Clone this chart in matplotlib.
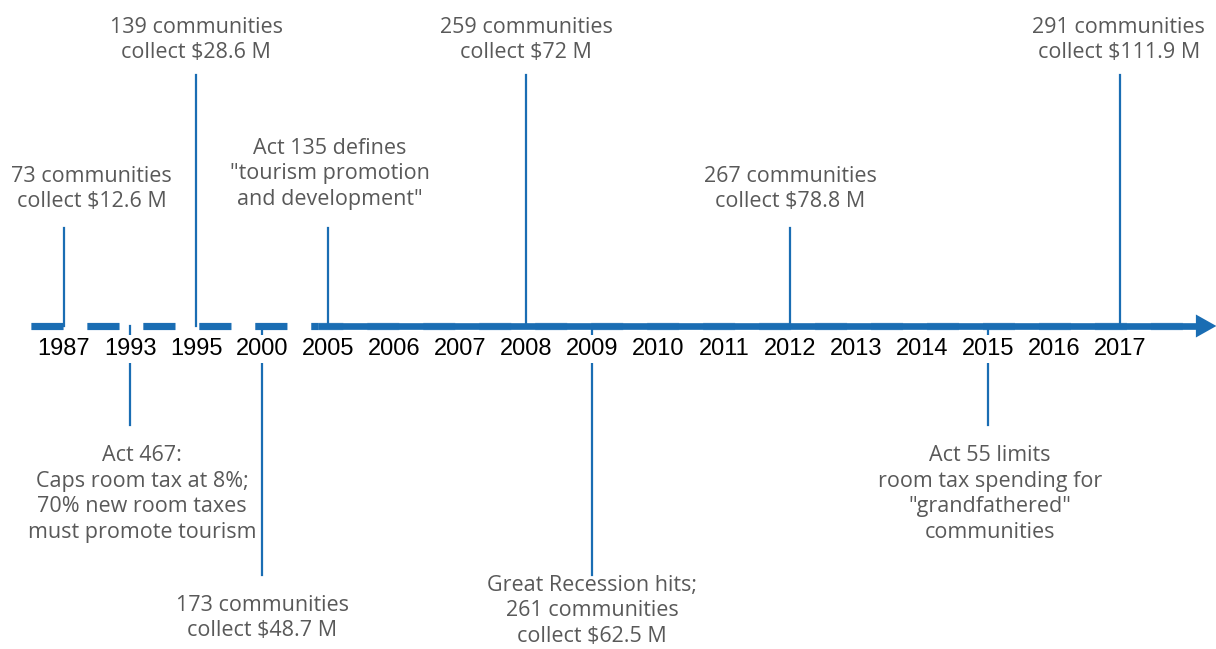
import matplotlib.pyplot as plt
from matplotlib.patches import Polygon

plt.rcParams['font.family'] = ['Open Sans', 'DejaVu Sans']
plt.rcParams['lines.scale_dashes'] = False

### data
years = ['1987', '1993', '1995', '2000', '2005', '2006', '2007', '2008', '2009',
         '2010', '2011', '2012', '2013', '2014', '2015', '2016', '2017']

# events: year, text, where the stem ends (pixels from top), text centre offset, text centre
event_years = ['1987', '1995', '2005', '2008', '2012', '2017',
               '1993', '2000', '2009', '2015']
event_texts = [
    '73 communities\ncollect $12.6 M',
    '139 communities\ncollect $28.6 M',
    'Act 135 defines\n"tourism promotion\nand development"',
    '259 communities\ncollect $72 M',
    '267 communities\ncollect $78.8 M',
    '291 communities\ncollect $111.9 M',
    'Act 467:\nCaps room tax at 8%;\n70% new room taxes\nmust promote tourism',
    '173 communities\ncollect $48.7 M',
    'Great Recession hits;\n261 communities\ncollect $62.5 M',
    'Act 55 limits\nroom tax spending for\n"grandfathered"\ncommunities',
]
stem_end = [228, 75, 228, 75, 228, 75, 425, 575, 575, 425]
text_dx = [0.42, 0, 0.03, 0, 0, -0.02, 0.18, 0, 0, 0.03]
text_mid = [189, 40, 174, 40, 189, 40, 494, 618, 611, 494]

blue = '#1a6db3'
grey = '#595959'
axis_y = 326

fig = plt.figure(figsize=(12.16, 6.49), dpi=100)
ax = fig.add_axes([0, 0, 1, 1])
px = 66.0
ax.set_xlim(-64 / px, (1216 - 64) / px)
ax.set_ylim(649, 0)
ax.axis('off')

x = list(range(len(years)))

# dashed part (runs all the way under the solid part)
ax.plot([-0.5, 17.15], [axis_y, axis_y], color=blue, lw=5.3, alpha=0.5,
        dashes=(23, 17.3), dash_capstyle='butt', zorder=1)
ax.plot([-0.5, 3.85], [axis_y, axis_y], color=blue, lw=5,
        dashes=(23, 17.3), dash_capstyle='butt', zorder=2)
# solid part from 2005
ax.plot([3.85, 17.16], [axis_y, axis_y], color=blue, lw=4.8, solid_capstyle='butt', zorder=2)
ax.add_patch(Polygon([[17.15, axis_y - 11.5], [17.46, axis_y], [17.15, axis_y + 11.5]],
                     closed=True, color=blue, lw=0, zorder=2))

for yr, txt, end, dx, mid in zip(event_years, event_texts, stem_end, text_dx, text_mid):
    xi = years.index(yr)
    ax.plot([xi, xi], [axis_y, end], color=blue, lw=1.6, zorder=3)
    ax.text(xi + dx, mid, txt, ha='center', va='center', fontsize=15.5,
            color=grey, linespacing=1.31)

for i, y in enumerate(years):
    ax.text(x[i], 349, y, ha='center', va='center', fontsize=17, color='black',
            family=['Liberation Sans', 'DejaVu Sans'], zorder=4,
            bbox=dict(boxstyle='square,pad=0.12', fc='white', ec='none'))

fig.savefig('out.png', dpi=100)
